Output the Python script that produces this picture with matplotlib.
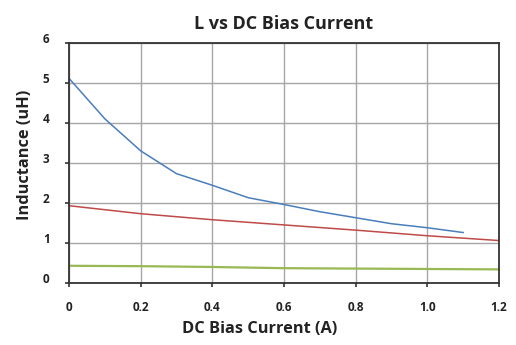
import matplotlib
matplotlib.use("Agg")
import matplotlib.pyplot as plt

plt.rcParams['font.family'] = ['Open Sans', 'DejaVu Sans']

x_blue = [0.0, 0.1, 0.2, 0.3, 0.4, 0.5, 0.6, 0.7, 0.8, 0.9, 1.0, 1.1]
y_blue = [5.11, 4.10, 3.30, 2.73, 2.44, 2.13, 1.96, 1.78, 1.63, 1.48, 1.38, 1.26]
x_red = [0.0, 0.2, 0.4, 0.6, 0.8, 1.0, 1.2]
y_red = [1.93, 1.73, 1.58, 1.45, 1.32, 1.18, 1.06]
x_green = [0.0, 0.2, 0.4, 0.6, 0.8, 1.0, 1.2]
y_green = [0.43, 0.42, 0.40, 0.37, 0.36, 0.35, 0.34]
x_ticks = [0.0, 0.2, 0.4, 0.6, 0.8, 1.0, 1.2]
x_ticklabels = ['0', '0.2', '0.4', '0.6', '0.8', '1.0', '1.2']
y_ticks = [0, 1, 2, 3, 4, 5, 6]

fig = plt.figure(figsize=(5.16, 3.45), dpi=100)
ax = fig.add_axes([69/516, 1-283/345, (499-69)/516, (283-42.7)/345])

ax.plot(x_blue, y_blue, color='#4a7ebb', lw=1.1)
ax.plot(x_red, y_red, color='#be4b48', lw=1.1)
ax.plot(x_green, y_green, color='#98b954', lw=1.6)

ax.set_xlim(0, 1.2)
ax.set_ylim(0, 6)
ax.set_xticks(x_ticks)
ax.set_xticklabels(x_ticklabels, fontsize=8.5, fontweight='bold', color='#222222')
ax.set_yticks(y_ticks)
ax.set_yticklabels([str(v) for v in y_ticks], fontsize=8.5, fontweight='bold', color='#222222',
                   va='baseline')
ax.tick_params(axis='x', length=3, pad=10, color='#333333', width=1.2)
ax.tick_params(axis='y', length=3, pad=11, color='#333333', width=1.2)
ax.grid(True, color='#a6a6a6', lw=1.0)
ax.set_axisbelow(True)
for s in ax.spines.values():
    s.set_color('#333333')
    s.set_linewidth(1.3)

ax.set_title('L vs DC Bias Current', fontsize=13, fontweight='bold', color='#222222', pad=10)
ax.set_xlabel('DC Bias Current (A)', fontsize=11.8, fontweight='bold', color='#222222')
ax.xaxis.set_label_coords((260-69)/(499-69), -(329-283)/(283-42.7))
ax.xaxis.label.set_va('center')
ax.set_ylabel('Inductance (uH)', fontsize=11.8, fontweight='bold', color='#222222')
ax.yaxis.set_label_coords(-(69-25)/(499-69), (283-154.5)/(283-42.7))
ax.yaxis.label.set_va('center')

fig.savefig('out.png', dpi=100)
